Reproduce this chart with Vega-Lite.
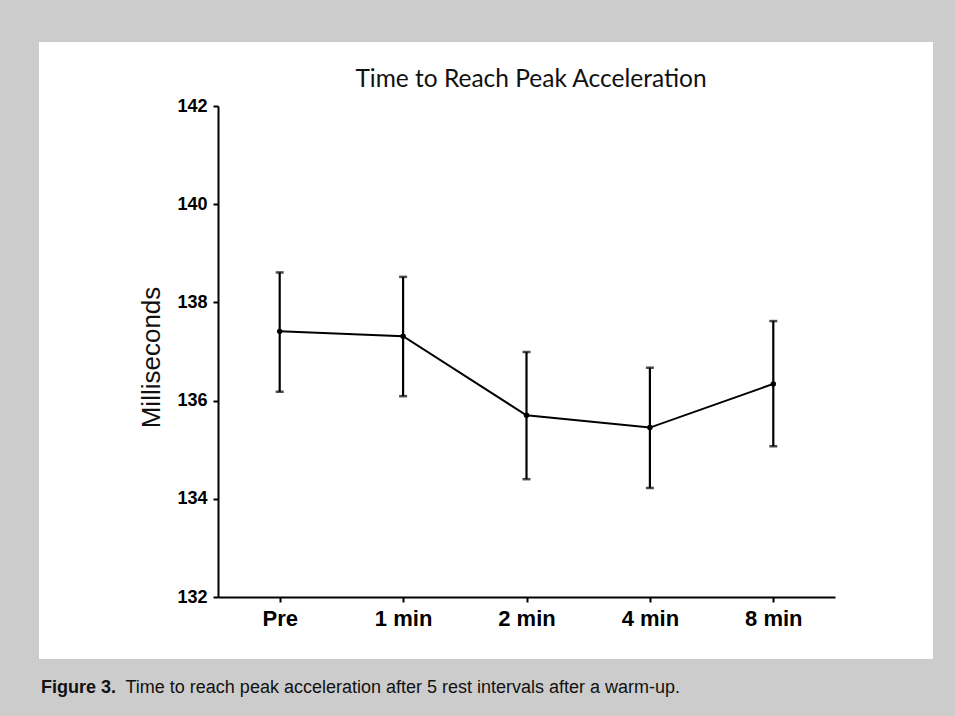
{
  "$schema": "https://vega.github.io/schema/vega-lite/v6.json",
  "width": 894,
  "height": 617,
  "autosize": "none",
  "padding": {"left": 39, "top": 42, "right": 22, "bottom": 57},
  "background": "#cccccc",
  "config": {
    "view": {"fill": "white", "stroke": null},
    "axis": {"domainColor": "black", "tickColor": "black", "labelColor": "black", "grid": false, "domainWidth": 2, "tickWidth": 2, "tickSize": 5}
  },
  "title": {
    "text": "Time to Reach Peak Acceleration",
    "font": "Lato",
    "fontSize": 24.5,
    "fontWeight": "normal",
    "color": "#111111",
    "anchor": "middle",
    "frame": "group",
    "baseline": "alphabetic",
    "offset": 0,
    "dx": 45,
    "dy": 69
  },
  "data": {
    "values": [
      {"t": "Pre", "mean": 137.41, "lo": 136.18, "hi": 138.61},
      {"t": "1 min", "mean": 137.31, "lo": 136.09, "hi": 138.52},
      {"t": "2 min", "mean": 135.70, "lo": 134.40, "hi": 136.99},
      {"t": "4 min", "mean": 135.45, "lo": 134.22, "hi": 136.67},
      {"t": "8 min", "mean": 136.34, "lo": 135.07, "hi": 137.62}
    ]
  },
  "encoding": {
    "x": {
      "field": "t",
      "type": "ordinal",
      "sort": null,
      "scale": {"type": "point", "range": [179, 796], "padding": 0.5},
      "axis": {
        "orient": "bottom",
        "offset": -62,
        "labelAngle": 0,
        "labelFont": "Liberation Sans",
        "labelFontSize": 22,
        "labelFontWeight": "bold",
        "labelPadding": 6,
        "title": "Figure 3.",
        "titleFont": "Liberation Sans",
        "titleFontSize": 18,
        "titleFontWeight": "bold",
        "titleColor": "#111111",
        "titleX": 1.5,
        "titleY": 95,
        "titleAlign": "left",
        "titleBaseline": "alphabetic",
        "titleAngle": 0
      }
    }
  },
  "layer": [
    {
      "mark": {"type": "rule", "color": "black", "strokeWidth": 2.2},
      "encoding": {
        "y": {
          "field": "lo",
          "type": "quantitative",
          "scale": {"domain": [132, 142], "range": [555, 64], "zero": false, "nice": false},
          "axis": {
            "orient": "left",
            "offset": -179,
            "values": [132, 134, 136, 138, 140, 142],
            "labelFont": "Liberation Sans",
            "labelFontSize": 18,
            "labelFontWeight": "bold",
            "labelPadding": 6,
            "title": "Milliseconds",
            "titleFont": "Liberation Sans",
            "titleFontSize": 26,
            "titleFontWeight": "normal",
            "titleColor": "#111111",
            "titleAngle": 270,
            "titleX": -67,
            "titleY": 315,
            "titleAlign": "center",
            "titleBaseline": "middle"
          }
        },
        "y2": {"field": "hi"}
      }
    },
    {
      "mark": {"type": "tick", "color": "black", "thickness": 2.5, "size": 8, "orient": "horizontal"},
      "encoding": {
        "y": {"field": "lo", "type": "quantitative", "scale": {"domain": [132, 142], "range": [555, 64], "zero": false, "nice": false}, "axis": null}
      }
    },
    {
      "mark": {"type": "tick", "color": "black", "thickness": 2.5, "size": 8, "orient": "horizontal"},
      "encoding": {
        "y": {"field": "hi", "type": "quantitative", "scale": {"domain": [132, 142], "range": [555, 64], "zero": false, "nice": false}, "axis": null}
      }
    },
    {
      "mark": {"type": "line", "color": "black", "strokeWidth": 2},
      "encoding": {
        "y": {
          "field": "mean",
          "type": "quantitative",
          "scale": {"domain": [132, 142], "range": [555, 64], "zero": false, "nice": false},
          "axis": {
            "orient": "right",
            "offset": 0,
            "domain": false,
            "ticks": false,
            "labels": false,
            "title": "Time to reach peak acceleration after 5 rest intervals after a warm-up.",
            "titleFont": "Liberation Sans",
            "titleFontSize": 18,
            "titleFontWeight": "normal",
            "titleColor": "#111111",
            "titleAngle": 0,
            "titleX": -808,
            "titleY": 650,
            "titleAlign": "left",
            "titleBaseline": "alphabetic"
          }
        }
      }
    },
    {
      "mark": {"type": "point", "filled": true, "color": "black", "size": 30, "opacity": 1},
      "encoding": {
        "y": {"field": "mean", "type": "quantitative", "scale": {"domain": [132, 142], "range": [555, 64], "zero": false, "nice": false}, "axis": null}
      }
    }
  ],
  "resolve": {"axis": {"y": "independent"}}
}
